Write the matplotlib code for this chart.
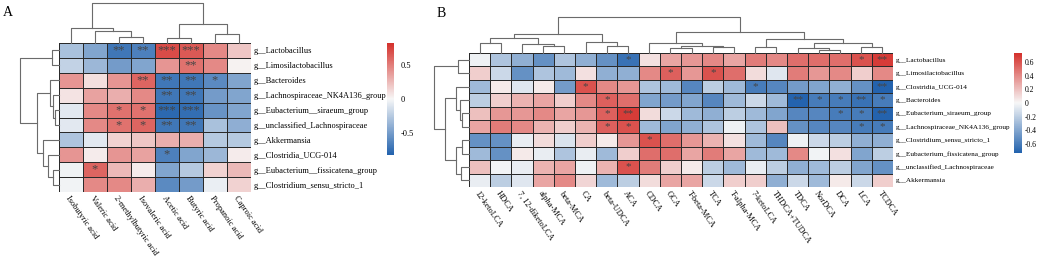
import numpy as np
import matplotlib
matplotlib.use("Agg")
import matplotlib.pyplot as plt
from matplotlib.colors import LinearSegmentedColormap

W, H = 1038, 259
plt.rcParams['font.family'] = ['Liberation Serif', 'DejaVu Serif']

# ---------------- panel A: SCFA vs genera ----------------
a_rows = ["g__Lactobacillus", "g__Limosilactobacillus", "g__Bacteroides",
          "g__Lachnospiraceae_NK4A136_group", "g__Eubacterium__siraeum_group",
          "g__unclassified_Lachnospiraceae", "g__Akkermansia", "g__Clostridia_UCG-014",
          "g__Eubacterium__fissicatena_group", "g__Clostridium_sensu_stricto_1"]
a_cols = ["Isobutyric acid", "Valeric acid", "2-methylbutyric acid", "Isovaleric acid",
          "Acetic acid", "Butyric acid", "Propanoic acid", "Caproic acid"]
a_vals = [
    [-0.30, -0.45, -0.70, -0.65, 0.70, 0.65, 0.45, 0.20],
    [-0.20, -0.35, -0.50, -0.45, 0.40, 0.55, 0.45, 0.02],
    [0.40, 0.10, 0.40, 0.60, -0.70, -0.70, -0.60, -0.45],
    [0.08, 0.35, 0.30, 0.45, -0.70, -0.70, -0.50, -0.45],
    [-0.08, 0.45, 0.55, 0.55, -0.78, -0.75, -0.55, -0.45],
    [-0.08, 0.45, 0.55, 0.60, -0.70, -0.70, -0.30, -0.40],
    [-0.28, -0.08, 0.15, 0.20, 0.30, 0.30, -0.25, -0.25],
    [0.40, 0.05, 0.40, 0.35, -0.65, -0.45, -0.35, 0.05],
    [-0.03, 0.60, 0.25, 0.05, -0.45, -0.25, 0.15, 0.25],
    [-0.02, 0.45, 0.45, 0.30, -0.60, -0.50, -0.05, 0.15],
]
a_stars = [
    ["", "", "**", "**", "***", "***", "", ""],
    ["", "", "", "", "", "**", "", ""],
    ["", "", "", "**", "**", "**", "*", ""],
    ["", "", "", "", "**", "**", "", ""],
    ["", "", "*", "*", "***", "***", "", ""],
    ["", "", "*", "*", "**", "**", "", ""],
    ["", "", "", "", "", "", "", ""],
    ["", "", "", "", "*", "", "", ""],
    ["", "*", "", "", "", "", "", ""],
    ["", "", "", "", "", "", "", ""],
]
# merges: (child a, child b, height); leaves are in display order
a_col_tree = [(2, 3, 5.7), (1, 8, 11.3), (0, 9, 14.7), (4, 5, 5.0), (6, 7, 9.0),
              (11, 12, 18.3), (10, 13, 39.0)]
a_row_tree = [(0, 1, 7.0), (4, 5, 4.3), (3, 11, 6.0), (2, 12, 9.3), (8, 9, 6.0),
              (7, 14, 11.0), (6, 15, 16.0), (13, 16, 21.7), (10, 17, 39.3)]

# ---------------- panel B: bile acids vs genera ----------------
b_rows = ["g__Lactobacillus", "g__Limosilactobacillus", "g__Clostridia_UCG-014",
          "g__Bacteroides", "g__Eubacterium_siraeum_group",
          "g__Lachnospiraceae_NK4A136_group", "g__Clostridium_sensu_stricto_1",
          "g__Eubacterium_fissicatena_group", "g__unclassified_Lachnospiraceae",
          "g__Akkermansia"]
b_cols = ["12-ketoLCA", "HDCA", "7, 12-diketoLCA", "alpha-MCA", "beta-MCA", "CA",
          "beta-UDCA", "ACA", "CDCA", "GCA", "T-beta-MCA", "TCA", "T-alpha-MCA",
          "7-ketoLCA", "THDCA+TUDCA", "TDCA", "NorDCA", "DCA", "LCA", "TCDCA"]
b_vals = [
    [-0.03, -0.25, -0.35, -0.50, -0.25, -0.35, -0.50, -0.65, 0.08, 0.30, 0.35, 0.40, 0.30, 0.45, 0.40, 0.50, 0.50, 0.50, 0.60, 0.68],
    [0.15, -0.15, -0.50, -0.25, -0.30, 0.08, -0.35, -0.35, 0.40, 0.55, 0.35, 0.60, 0.50, 0.10, -0.08, 0.45, 0.35, 0.40, 0.15, 0.40],
    [-0.30, 0.05, -0.08, 0.05, -0.45, 0.60, 0.40, 0.35, -0.25, -0.30, -0.55, -0.20, -0.30, -0.60, -0.55, -0.45, -0.40, -0.35, -0.50, -0.72],
    [-0.20, 0.15, 0.25, 0.30, 0.15, 0.40, 0.55, 0.50, -0.40, -0.45, -0.40, -0.55, -0.30, -0.15, -0.30, -0.72, -0.60, -0.60, -0.65, -0.60],
    [0.20, 0.35, 0.35, 0.40, 0.30, 0.35, 0.55, 0.68, 0.10, -0.15, -0.30, -0.35, -0.20, -0.30, -0.40, -0.55, -0.55, -0.60, -0.60, -0.72],
    [0.30, 0.45, 0.40, 0.25, 0.15, 0.25, 0.55, 0.60, -0.30, -0.40, -0.35, -0.25, -0.03, -0.25, 0.20, -0.50, -0.55, -0.55, -0.60, -0.60],
    [-0.50, -0.50, -0.05, 0.10, -0.10, 0.15, 0.05, 0.35, 0.60, 0.50, 0.35, 0.25, 0.08, -0.30, -0.55, -0.03, -0.15, -0.20, -0.35, -0.35],
    [-0.30, -0.50, 0.05, -0.05, -0.25, -0.05, -0.30, 0.15, 0.50, 0.50, 0.30, 0.45, 0.30, -0.30, -0.30, 0.40, -0.02, 0.08, -0.40, -0.20],
    [0.20, -0.02, -0.05, 0.25, 0.30, -0.03, 0.25, 0.60, 0.45, 0.15, 0.05, -0.20, -0.30, -0.05, -0.20, -0.35, -0.30, -0.20, -0.40, -0.50],
    [-0.05, -0.20, -0.08, 0.30, 0.40, 0.12, -0.30, -0.20, 0.10, 0.30, 0.30, -0.15, 0.15, 0.15, -0.35, -0.15, -0.30, 0.05, -0.15, 0.15],
]
b_stars = [[""] * 20 for _ in range(10)]
b_star_cells = [(0, 7, "*"), (0, 18, "*"), (0, 19, "**"),
                (1, 9, "*"), (1, 11, "*"),
                (2, 5, "*"), (2, 13, "*"), (2, 19, "**"),
                (3, 6, "*"), (3, 15, "**"), (3, 16, "*"), (3, 17, "*"), (3, 18, "**"), (3, 19, "*"),
                (4, 6, "*"), (4, 7, "**"), (4, 17, "*"), (4, 18, "*"), (4, 19, "**"),
                (5, 6, "*"), (5, 7, "*"), (5, 18, "*"), (5, 19, "*"),
                (6, 8, "*"), (8, 7, "*")]
for r, c, s in b_star_cells:
    b_stars[r][c] = s
b_col_tree = [(0, 1, 10.0), (3, 4, 7.3), (2, 21, 8.7), (20, 22, 15.3), (6, 7, 7.3),
              (5, 24, 11.3), (23, 25, 18.7), (9, 10, 4.7), (11, 12, 5.7), (27, 28, 7.3),
              (8, 29, 10.3), (13, 14, 6.3), (16, 17, 3.0), (15, 32, 4.7), (18, 19, 6.3),
              (33, 34, 9.7), (31, 35, 13.7), (30, 36, 21.3), (26, 37, 36.0)]
b_row_tree = [(0, 1, 11.0), (4, 5, 6.7), (3, 11, 9.3), (2, 12, 12.7), (6, 7, 6.7),
              (8, 9, 8.0), (14, 15, 12.7), (13, 16, 24.3), (10, 17, 35.0)]

cmap = LinearSegmentedColormap.from_list("rb", ["#2262ad", "#f7f7f7", "#d4302b"])
fig = plt.figure(figsize=(W / 100, H / 100), dpi=100)


def box(x0, y0, x1, y1):
    # pixel box (top-left origin) -> figure fraction
    return [x0 / W, 1 - y1 / H, (x1 - x0) / W, (y1 - y0) / H]


def draw_dendro(rect, merges, n, orient):
    ax = fig.add_axes(box(*rect))
    pos = {i: i + 0.5 for i in range(n)}
    hgt = {i: 0.0 for i in range(n)}
    for k, (a, b, h) in enumerate(merges):
        xs = [pos[a], pos[a], pos[b], pos[b]]
        hs = [hgt[a], h, h, hgt[b]]
        if orient == "top":
            ax.plot(xs, hs, color="#6b6b6b", lw=0.8, clip_on=False)
        else:
            ax.plot(hs, xs, color="#6b6b6b", lw=0.8, clip_on=False)
        pos[n + k] = (pos[a] + pos[b]) / 2
        hgt[n + k] = h
    top = max(m[2] for m in merges)
    if orient == "top":
        ax.set_xlim(0, n)
        ax.set_ylim(0, top)
    else:
        ax.set_ylim(n, 0)
        ax.set_xlim(top, 0)
    ax.axis("off")


def draw_heat(rect, vals, stars, rows, cols, vmax, star_size, row_size):
    ax = fig.add_axes(box(*rect))
    data = np.array(vals)
    mesh = ax.pcolormesh(data, cmap=cmap, vmin=-vmax, vmax=vmax,
                         edgecolors="#2a2a2a", linewidth=0.6)
    ax.set_xlim(0, len(cols))
    ax.set_ylim(len(rows), 0)
    for i, row in enumerate(stars):
        for j, s in enumerate(row):
            if s:
                ax.text(j + 0.5, i + 0.5, s, ha="center", va="center",
                        fontsize=star_size, color="#454545")
    ax.set_yticks(np.arange(len(rows)) + 0.5, rows)
    ax.yaxis.tick_right()
    ax.set_xticks(np.arange(len(cols)) + 0.5, cols, rotation=-55, ha="left",
                  va="top", rotation_mode="anchor")
    ax.tick_params(length=0, labelsize=6, pad=2)
    ax.tick_params(axis="y", labelsize=row_size)
    for sp in ax.spines.values():
        sp.set_visible(False)
    return mesh


def draw_cbar(rect, mesh, ticks, labels, size, pad):
    cax = fig.add_axes(box(*rect))
    cb = fig.colorbar(mesh, cax=cax)
    cb.outline.set_visible(False)
    cb.set_ticks(ticks, labels=labels)
    cb.ax.tick_params(length=0, labelsize=size, pad=pad)


# panel A
mesh_a = draw_heat((59, 43, 251, 192), a_vals, a_stars, a_rows, a_cols, 0.82, 9, 6)
draw_dendro((59, 3, 251, 43), a_col_tree, len(a_cols), "top")
draw_dendro((20, 43, 59, 192), a_row_tree, len(a_rows), "left")
draw_cbar((387, 43, 394, 155), mesh_a, [-0.5, 0, 0.5], ["-0.5", "0", "0.5"], 6, 5)
fig.text(3 / W, 1 - 16 / H, "A", fontsize=10, va="baseline")

# panel B
mesh_b = draw_heat((469, 53, 893, 187), b_vals, b_stars, b_rows, b_cols, 0.73, 8, 5.2)
draw_dendro((469, 17, 893, 53), b_col_tree, len(b_cols), "top")
draw_dendro((434, 53, 469, 187), b_row_tree, len(b_rows), "left")
draw_cbar((1014, 53, 1022, 153), mesh_b, [-0.6, -0.4, -0.2, 0, 0.2, 0.4, 0.6],
          ["-0.6", "-0.4", "-0.2", "0", "0.2", "0.4", "0.6"], 5.5, 2)
fig.text(437 / W, 1 - 17 / H, "B", fontsize=10, va="baseline")

fig.savefig("out.png", dpi=100)
